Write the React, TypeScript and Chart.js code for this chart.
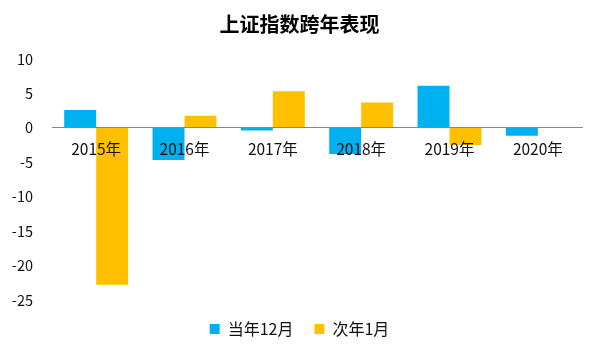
import React, { useEffect, useRef } from "react";
import { Chart, registerables } from "chart.js";

Chart.register(...registerables);

const categories = ["2015年", "2016年", "2017年", "2018年", "2019年", "2020年"];
const decemberValues = [2.6, -4.65, -0.4, -3.8, 6.1, -1.15];
const januaryValues: (number | null)[] = [-22.8, 1.75, 5.3, 3.7, -2.5, null];
const seriesNames = ["当年12月", "次年1月"];
const yTicks = [10, 5, 0, -5, -10, -15, -20, -25];

const FONT = "'Noto Sans CJK SC', 'Noto Sans', sans-serif";

export default function App() {
  const ref = useRef<HTMLCanvasElement | null>(null);

  useEffect(() => {
    document.body.style.margin = "0";
    const canvas = ref.current;
    if (!canvas) return;
    const chart = new Chart(canvas, {
      type: "bar",
      data: {
        labels: categories,
        datasets: [
          {
            label: seriesNames[0],
            data: decemberValues,
            backgroundColor: "#00B0F0",
            categoryPercentage: 0.724,
            barPercentage: 1,
          },
          {
            label: seriesNames[1],
            data: januaryValues,
            backgroundColor: "#FFC000",
            categoryPercentage: 0.724,
            barPercentage: 1,
          },
        ],
      },
      options: {
        animation: false,
        responsive: false,
        maintainAspectRatio: false,
        layout: { padding: { left: 0, right: 0, top: 0, bottom: 13 } },
        plugins: {
          title: {
            display: true,
            text: "上证指数跨年表现",
            color: "#000",
            font: { family: FONT, size: 20, weight: "bold", lineHeight: 1.2 },
            padding: { top: 12, bottom: 23 },
          },
          legend: {
            position: "bottom",
            labels: {
              color: "#111",
              font: { family: FONT, size: 16 },
              boxWidth: 10,
              boxHeight: 10,
              padding: 21,
            },
          },
          tooltip: { enabled: false },
        },
        scales: {
          x: {
            position: { y: 0 } as any,
            grid: { display: false, drawTicks: false },
            border: { display: true, color: "#868686", width: 1, z: 1 },
            ticks: {
              color: "#111",
              font: { family: FONT, size: 15.5 },
              padding: 12,
              maxRotation: 0,
              z: 2,
            },
          },
          y: {
            min: -25,
            max: 10,
            grid: { display: false, drawTicks: false },
            border: { display: false },
            afterBuildTicks: (scale: any) => {
              scale.ticks = yTicks.map((v) => ({ value: v }));
            },
            afterFit: (scale: any) => {
              scale.width = 52;
            },
            ticks: {
              color: "#111",
              font: { family: FONT, size: 14.5 },
              padding: 19,
            },
          },
          yRight: {
            type: "linear",
            position: "right",
            min: -25,
            max: 10,
            grid: { display: false, drawTicks: false },
            border: { display: false },
            ticks: { display: false },
            afterFit: (scale: any) => {
              scale.width = 17;
            },
          },
        },
      },
    });
    return () => chart.destroy();
  }, []);

  return (
    <div style={{ width: 599, height: 360 }}>
      <canvas ref={ref} width={599} height={360} style={{ width: 599, height: 360 }} />
    </div>
  );
}
